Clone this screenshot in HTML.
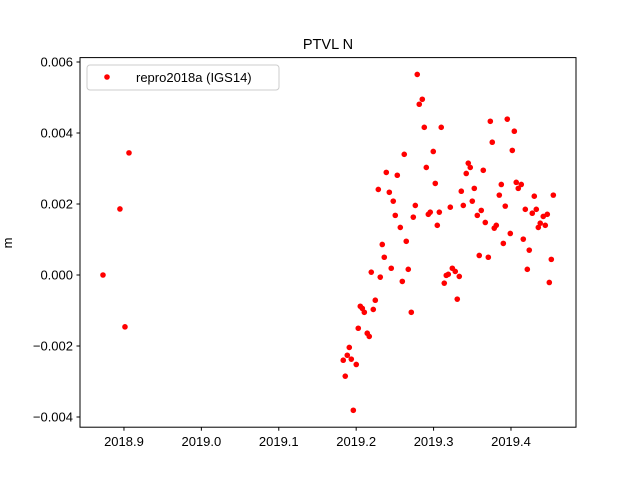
<!DOCTYPE html>
<html><head><meta charset="utf-8"><style>
html,body{margin:0;padding:0;background:#fff;}
svg{display:block;font-family:"Liberation Sans","DejaVu Sans",sans-serif;}
</style></head><body>
<svg id="chart" width="640" height="480" viewBox="0 0 640 480" xmlns="http://www.w3.org/2000/svg">
<rect width="640" height="480" fill="#fff"/>
<text x="328" y="49" text-anchor="middle" font-size="14.5">PTVL N</text>
<text transform="translate(12,243) rotate(-90)" text-anchor="middle" font-size="13">m</text>
<g id="ticks"></g>
<g id="points"></g>
<rect x="80" y="57.6" width="496" height="369.6" fill="none" stroke="#000" stroke-width="1"/>
<g>
<rect x="87" y="65" width="192" height="25" rx="3" fill="#fff" fill-opacity="0.8" stroke="#ccc"/>
<circle cx="107" cy="77" r="2.8" fill="#f00"/>
<text x="136" y="82" font-size="13">repro2018a (IGS14)</text>
</g>
</svg>
<script>
const xTicks = [2018.9, 2019.0, 2019.1, 2019.2, 2019.3, 2019.4];
const xTickLabels = ["2018.9","2019.0","2019.1","2019.2","2019.3","2019.4"];
const yTicks = [-0.004, -0.002, 0.000, 0.002, 0.004, 0.006];
const yTickLabels = ["\u22120.004","\u22120.002","0.000","0.002","0.004","0.006"];
const times = [2018.8729,2018.8948,2018.9013,2018.9065,
2019.2789,2019.2854,2019.2815,2019.2880,2019.3099,2019.2996,2019.2621,2019.2906,2019.2389,2019.2531,2019.3022,2019.2286,2019.2428,2019.2479,2019.2764,2019.3216,2019.2957,2019.2932,2019.3074,2019.2505,2019.2738,2019.3048,2019.2570,2019.2647,2019.2337,2019.2363,2019.2453,2019.2673,2019.3242,2019.2195,2019.3190,2019.3164,2019.2311,2019.3138,2019.2596,2019.2247,2019.2053,2019.2079,2019.2105,2019.2221,2019.2712,2019.2027,2019.2143,2019.2169,2019.1911,2019.1885,2019.1833,2019.1937,2019.2001,2019.1859,2019.1963,
2019.3733,2019.3952,2019.4043,2019.3758,2019.4017,2019.3448,2019.3474,2019.3422,2019.3642,2019.3875,2019.4068,2019.4133,2019.4094,2019.3358,2019.3526,2019.3849,2019.4301,2019.4547,2019.3500,2019.3384,2019.3926,2019.4185,2019.4327,2019.3616,2019.4275,2019.3565,2019.4417,2019.4469,2019.3668,2019.4378,2019.4353,2019.4443,2019.3810,2019.3784,2019.3991,2019.4159,2019.3901,2019.4236,2019.3590,2019.3707,2019.4521,2019.4211,2019.3280,2019.3332,2019.4495,2019.3306];
const northValues = [0.00000,0.00186,-0.00146,0.00344,
0.00565,0.00495,0.00481,0.00416,0.00416,0.00348,0.00340,0.00303,0.00289,0.00281,0.00258,0.00241,0.00233,0.00208,0.00196,0.00191,0.00177,0.00171,0.00177,0.00168,0.00163,0.00140,0.00134,0.00095,0.00086,0.00050,0.00019,0.00016,0.00019,0.00008,0.00002,-0.00001,-0.00006,-0.00023,-0.00018,-0.00071,-0.00088,-0.00094,-0.00105,-0.00097,-0.00105,-0.00150,-0.00164,-0.00173,-0.00204,-0.00226,-0.00240,-0.00237,-0.00252,-0.00285,-0.00381,
0.00433,0.00439,0.00405,0.00374,0.00351,0.00315,0.00303,0.00286,0.00295,0.00255,0.00261,0.00255,0.00244,0.00236,0.00244,0.00225,0.00222,0.00225,0.00208,0.00196,0.00194,0.00185,0.00185,0.00182,0.00174,0.00168,0.00165,0.00171,0.00148,0.00146,0.00134,0.00140,0.00140,0.00132,0.00117,0.00101,0.00089,0.00070,0.00055,0.00050,0.00044,0.00016,0.00010,-0.00004,-0.00021,-0.00068];

const NS = "http://www.w3.org/2000/svg";
const X0 = 80, X1 = 576, Y0 = 57.6, Y1 = 427.2;
const xMin = 2018.8432, xMax = 2019.4840, yMin = -0.004287, yMax = 0.006124;
function xScale(v){ return X0 + (v - xMin) / (xMax - xMin) * (X1 - X0); }
function yScale(v){ return Y1 - (v - yMin) / (yMax - yMin) * (Y1 - Y0); }

const tg = document.getElementById('ticks');
xTicks.forEach((t, i) => {
  const x = xScale(t);
  const l = document.createElementNS(NS, 'line');
  l.setAttribute('x1', x); l.setAttribute('x2', x);
  l.setAttribute('y1', Y1); l.setAttribute('y2', Y1 + 3.5);
  l.setAttribute('stroke', '#000');
  
  
  tg.appendChild(l);
  const tx = document.createElementNS(NS, 'text');
  tx.setAttribute('x', x); tx.setAttribute('y', Y1 + 19);
  tx.setAttribute('text-anchor', 'middle'); tx.setAttribute('font-size', '13');
  tx.textContent = xTickLabels[i];
  
  
  tg.appendChild(tx);
});
yTicks.forEach((t, i) => {
  const y = yScale(t);
  const l = document.createElementNS(NS, 'line');
  l.setAttribute('x1', X0 - 3.5); l.setAttribute('x2', X0);
  l.setAttribute('y1', y); l.setAttribute('y2', y);
  l.setAttribute('stroke', '#000');
  
  
  tg.appendChild(l);
  const tx = document.createElementNS(NS, 'text');
  tx.setAttribute('x', X0 - 7); tx.setAttribute('y', y + 4.5);
  tx.setAttribute('text-anchor', 'end'); tx.setAttribute('font-size', '13');
  tx.textContent = yTickLabels[i];
  
  
  tg.appendChild(tx);
});
const pg = document.getElementById('points');
times.forEach((t, i) => {
  const c = document.createElementNS(NS, 'circle');
  c.setAttribute('cx', xScale(t));
  c.setAttribute('cy', yScale(northValues[i]));
  c.setAttribute('r', '2.8');
  c.setAttribute('fill', '#f00');
  
  
  pg.appendChild(c);
});
</script>
</body></html>
